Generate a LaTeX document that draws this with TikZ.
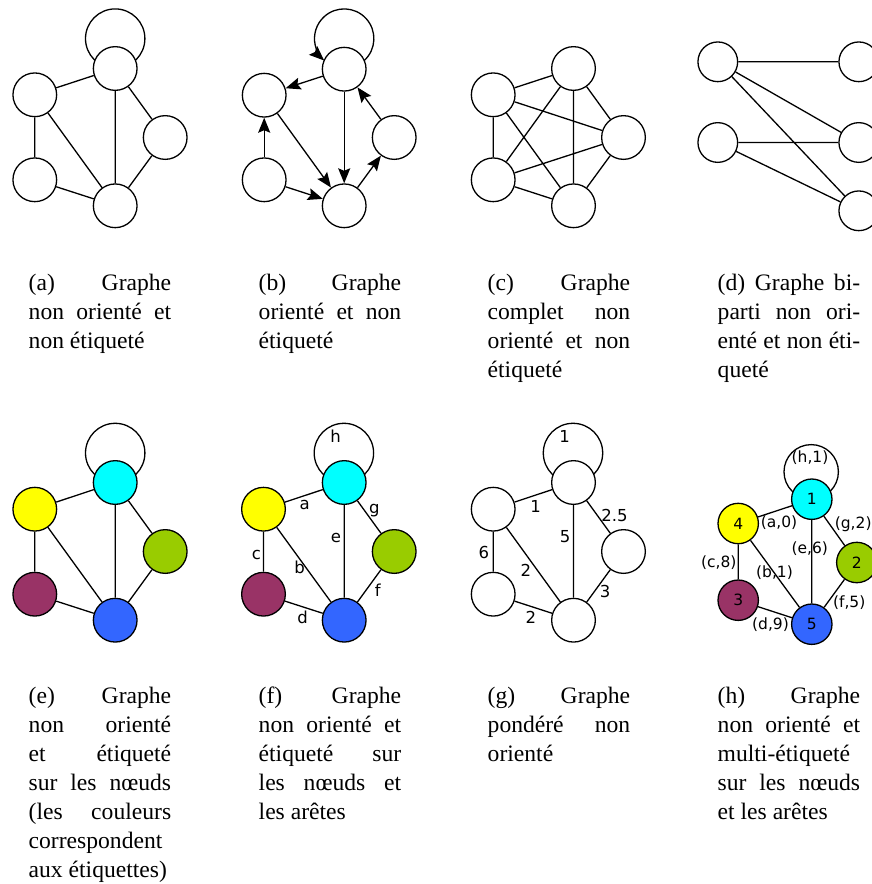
\documentclass[tikz,border=0pt]{standalone}
\usepackage{fontspec}
\setmainfont{Liberation Serif}
\newfontfamily\lblfont{DejaVu Sans}
\usetikzlibrary{arrows.meta,backgrounds,calc}
\definecolor{ncyan}{RGB}{0,255,255}
\definecolor{nyellow}{RGB}{255,255,0}
\definecolor{ngreen}{RGB}{153,204,0}
\definecolor{npurple}{RGB}{153,51,102}
\definecolor{nblue}{RGB}{51,102,255}
\newcommand{\capline}[1]{\hbox to 142.5pt{#1}}
\tikzset{
  vtx/.style={circle, draw=black, fill=white, line width=1.3pt, minimum size=43.7pt, inner sep=0pt},
  vtxd/.style={vtx, minimum size=39.7pt},
  vtxh/.style={vtx, minimum size=40.4pt, font=\lblfont\fontsize{15.5}{17}\selectfont},
  edge/.style={line width=1.3pt},
  arr/.style={line width=1.3pt, -{Stealth[length=15pt,width=12pt,inset=2.5pt]}},
  lbl/.style={font=\lblfont\fontsize{16.5}{19}\selectfont, inner sep=0pt},
  lblh/.style={font=\lblfont\fontsize{15.5}{17}\selectfont, inner sep=0pt},
  capt/.style={anchor=base west, inner sep=0pt, font=\fontsize{23.6}{29}\selectfont},
}
\begin{document}
\begin{tikzpicture}[x=1pt,y=-1pt]
\useasboundingbox (0,0) rectangle (872,884);

% ---------- (a)
\node[vtx] (aT) at (115.2,68.5) {};
\node[vtx] (aL) at (34.8,94.8) {};
\node[vtx] (aR) at (165.2,137.5) {};
\node[vtx] (aBL) at (34.8,179.8) {};
\node[vtx] (aB) at (115.2,205.8) {};
\draw[edge] (aL)--(aT) (aL)--(aBL) (aL)--(aB) (aT)--(aB) (aT)--(aR) (aR)--(aB) (aBL)--(aB);
\begin{pgfonlayer}{background}
\draw[edge] ($(aT.center)+(0,-29.9)$) circle[radius=29.7];
\end{pgfonlayer}

% ---------- (b)
\node[vtx] (bT) at (344.2,69.2) {};
\node[vtx] (bL) at (264.2,95.2) {};
\node[vtx] (bR) at (394.2,137.5) {};
\node[vtx] (bBL) at (264.2,179.8) {};
\node[vtx] (bB) at (344.2,205.8) {};
\draw[arr] (bT)--(bL);
\draw[arr] (bBL)--(bL);
\draw[arr] (bL)--(bB);
\draw[arr] (bT)--(bB);
\draw[arr] (bBL)--(bB);
\draw[arr] (bB)--(bR);
\draw[arr] (bR)--(bT);
\draw[arr] ($(bT.center)+(20.05,-8.7)$) arc[start angle=47.5,end angle=-227.5,radius=29.7];

% ---------- (c)
\node[vtx] (cT) at (573.5,68.5) {};
\node[vtx] (cL) at (493.2,94.8) {};
\node[vtx] (cR) at (623.5,137.5) {};
\node[vtx] (cBL) at (493.2,179.8) {};
\node[vtx] (cB) at (573.5,205.8) {};
\draw[edge] (cT)--(cL) (cT)--(cR) (cT)--(cBL) (cT)--(cB)
  (cL)--(cR) (cL)--(cBL) (cL)--(cB)
  (cR)--(cBL) (cR)--(cB) (cBL)--(cB);

% ---------- (d)
\node[vtxd] (dL1) at (717.8,61.8) {};
\node[vtxd] (dL2) at (717.8,142.5) {};
\node[vtxd] (dR1) at (858.8,61.8) {};
\node[vtxd] (dR2) at (858.8,142.5) {};
\node[vtxd] (dR3) at (858.8,210.8) {};
\draw[edge] (dL1)--(dR1) (dL1)--(dR2) (dL1)--(dR3) (dL2)--(dR2) (dL2)--(dR3);

% ---------- (e)
\node[vtx, fill=ncyan] (eT) at (115.2,482.5) {};
\node[vtx, fill=nyellow] (eL) at (34.8,509.2) {};
\node[vtx, fill=ngreen] (eR) at (165.2,551.5) {};
\node[vtx, fill=npurple] (eBL) at (34.8,594.2) {};
\node[vtx, fill=nblue] (eB) at (115.2,620.2) {};
\draw[edge] (eL)--(eT) (eL)--(eBL) (eL)--(eB) (eT)--(eB) (eT)--(eR) (eR)--(eB) (eBL)--(eB);
\begin{pgfonlayer}{background}
\draw[edge] ($(eT.center)+(0,-29.5)$) circle[radius=29.7];
\end{pgfonlayer}

% ---------- (f)
\node[vtx, fill=ncyan] (fT) at (344.2,482.5) {};
\node[vtx, fill=nyellow] (fL) at (263.5,509.2) {};
\node[vtx, fill=ngreen] (fR) at (394.2,551.5) {};
\node[vtx, fill=npurple] (fBL) at (263.5,594.2) {};
\node[vtx, fill=nblue] (fB) at (344.2,620.2) {};
\draw[edge] (fL)--(fT) (fL)--(fBL) (fL)--(fB) (fT)--(fB) (fT)--(fR) (fR)--(fB) (fBL)--(fB);
\begin{pgfonlayer}{background}
\draw[edge] ($(fT.center)+(-0.3,-29.5)$) circle[radius=29.7];
\end{pgfonlayer}
\node[lbl] (fh) at (335.5,436.5) {h};
\node[lbl] (fa) at (304.7,504.7) {a};
\node[lbl] (fg) at (374.3,510.8) {g};
\node[lbl] (fe) at (336,538) {e};
\node[lbl] (fc) at (256.5,555) {c};
\node[lbl] (fb) at (299.5,567.5) {b};
\node[lbl] (ff) at (377.8,590) {f};
\node[lbl] (fd) at (302.5,617.5) {d};

% ---------- (g)
\node[vtx] (gT) at (573.5,482.5) {};
\node[vtx] (gL) at (493.2,509.2) {};
\node[vtx] (gR) at (623.5,551.5) {};
\node[vtx] (gBL) at (493.2,594.2) {};
\node[vtx] (gB) at (573.5,620.2) {};
\draw[edge] (gL)--(gT) (gL)--(gBL) (gL)--(gB) (gT)--(gB) (gT)--(gR) (gR)--(gB) (gBL)--(gB);
\begin{pgfonlayer}{background}
\draw[edge] ($(gT.center)+(-0.5,-29.5)$) circle[radius=29.7];
\end{pgfonlayer}
\node[lbl] (gw1) at (564.5,436.7) {1};
\node[lbl] (gw2) at (535.5,506.7) {1};
\node[lbl] (gw3) at (614.5,515) {2.5};
\node[lbl] (gw4) at (565,536.7) {5};
\node[lbl] (gw5) at (483.8,552.5) {6};
\node[lbl] (gw6) at (525.8,570) {2};
\node[lbl] (gw7) at (605,591.7) {3};
\node[lbl] (gw8) at (530.8,617.5) {2};

% ---------- (h)
\node[vtxh, fill=ncyan] (h1) at (811.8,499.2) {1};
\node[vtxh, fill=nyellow] (h4) at (738.2,523.5) {4};
\node[vtxh, fill=ngreen] (h2) at (856.8,562.5) {2};
\node[vtxh, fill=npurple] (h3) at (738.2,600.2) {3};
\node[vtxh, fill=nblue] (h5) at (811.8,624.2) {5};
\draw[edge] (h4)--(h1) (h1)--(h2) (h1)--(h5) (h4)--(h3) (h4)--(h5) (h3)--(h5) (h2)--(h5);
\begin{pgfonlayer}{background}
\draw[edge] ($(h1.center)+(-0.6,-27.4)$) circle[radius=27.2];
\end{pgfonlayer}
\node[lblh] (hh) at (810,457.8) {(h,1)};
\node[lblh] (ha) at (779,522.2) {(a,0)};
\node[lblh] (hg) at (853.2,524.5) {(g,2)};
\node[lblh] (he) at (809.8,548.8) {(e,6)};
\node[lblh] (hc) at (718.8,563) {(c,8)};
\node[lblh] (hb) at (774.5,572.2) {(b,1)};
\node[lblh] (hf) at (849.2,602.8) {(f,5)};
\node[lblh] (hd) at (770.5,624.5) {(d,9)};

% ---------- captions
\node[capt] (capa) at (28.5,290) {\vtop{\capline{(a)\hfill Graphe}\capline{non\hfill orienté\hfill et}\hbox{non étiqueté}}};
\node[capt] (capb) at (258.5,290) {\vtop{\capline{(b)\hfill Graphe}\capline{orienté\hfill et\hfill non}\hbox{étiqueté}}};
\node[capt] (capc) at (487.5,290) {\vtop{\capline{(c)\hfill Graphe}\capline{complet\hfill non}\capline{orienté\hfill et\hfill non}\hbox{étiqueté}}};
\node[capt] (capd) at (717.5,290) {\vtop{\capline{(d)\hfill Graphe\hfill bi-}\capline{parti\hfill non\hfill ori-}\capline{enté\hfill et\hfill non\hfill éti-}\hbox{queté}}};
\node[capt] (cape) at (28.5,703) {\vtop{\capline{(e)\hfill Graphe}\capline{non\hfill orienté}\capline{et\hfill étiqueté}\capline{sur\hfill les\hfill nœuds}\capline{(les\hfill couleurs}\hbox{correspondent}\hbox{aux étiquettes)}}};
\node[capt] (capf) at (258.5,703) {\vtop{\capline{(f)\hfill Graphe}\capline{non\hfill orienté\hfill et}\capline{étiqueté\hfill sur}\capline{les\hfill nœuds\hfill et}\hbox{les arêtes}}};
\node[capt] (capg) at (487.5,703) {\vtop{\capline{(g)\hfill Graphe}\capline{pondéré\hfill non}\hbox{orienté}}};
\node[capt] (caph) at (717.5,703) {\vtop{\capline{(h)\hfill Graphe}\capline{non\hfill orienté\hfill et}\hbox{multi-étiqueté}\capline{sur\hfill les\hfill nœuds}\hbox{et les arêtes}}};
\end{tikzpicture}
\end{document}
